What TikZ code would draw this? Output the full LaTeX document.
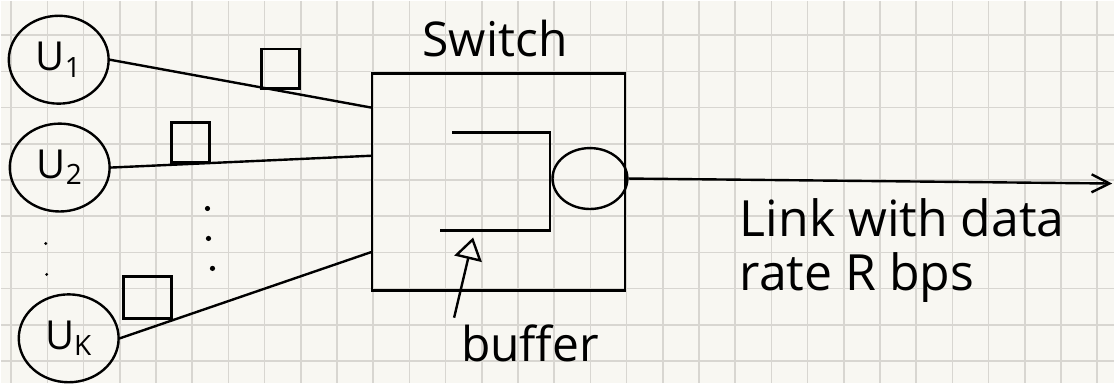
\documentclass[tikz,border=0pt]{standalone}
\usepackage{fontspec}
\setmainfont{Open Sans}
\usetikzlibrary{shapes.geometric,arrows.meta,calc}
\definecolor{paper}{HTML}{F8F7F2}
\definecolor{gridline}{HTML}{D8D6D1}

\begin{document}
\begin{tikzpicture}[x=0.5pt, y=-0.5pt,
    pen/.style={line width=1.2pt, black},
    user/.style={ellipse, draw, pen, minimum width=50pt, minimum height=44pt, inner sep=0pt, font=\fontsize{20}{22}\selectfont},
    packet/.style={draw, pen, minimum width=19pt, minimum height=20pt, inner sep=0pt},
    hand/.style={font=\fontsize{24}{24}\selectfont}]
    % 方格纸
    \fill[paper] (0,0) rectangle (1115,383);
    \foreach \i in {0,...,30}
        \draw[gridline, line width=0.8pt] ({10.5+36.25*\i},0) -- ({10.5+36.25*\i},383);
    \foreach \j in {0,...,9}
        \draw[gridline, line width=0.8pt] (0,{34.5+36.25*\j}) -- (1115,{34.5+36.25*\j});

    % 用户
    \node[user] (u1) at (58,59) {U\textsubscript{1}};
    \node[user] (u2) at (59,167) {U\textsubscript{2}};
    \node[user] (uk) at (68,338) {U\textsubscript{K}};
    \fill (45,243) circle (0.8pt);
    \fill (46,274) circle (0.8pt);

    % 交换机
    \node[draw, pen, minimum width=126.5pt, minimum height=108.5pt] (switch) at (498.5,181.5) {};
    \node[hand] (title) at (495,38) {Switch};
    \coordinate (in1) at ($(switch.north west)!0.16!(switch.south west)$);
    \coordinate (in2) at ($(switch.north west)!0.38!(switch.south west)$);
    \coordinate (ink) at ($(switch.north west)!0.82!(switch.south west)$);

    % 输入链路与分组
    \draw[pen] (u1.east) -- (in1);
    \draw[pen] (u2.east) -- (in2);
    \draw[pen] (uk.east) -- (ink);
    \node[packet] (p1) at (280,68) {};
    \node[packet] (p2) at (190,142) {};
    \node[packet, minimum width=24pt, minimum height=21pt] (pk) at (147,297) {};
    \fill (207,208) circle (1.3pt);
    \fill (208,238) circle (1.3pt);
    \fill (212,268) circle (1.3pt);

    % 缓存与服务器
    \draw[pen] (452,132) -- (550,132) -- (550,230) -- (440,230);
    \coordinate (bufin) at (473,237);
    \node[ellipse, draw, pen, minimum width=37.5pt, minimum height=30.5pt, inner sep=0pt] (server) at (590,178) {};
    \node[hand] (buflabel) at (530,343) {buffer};
    \draw[pen, -{Triangle[open, length=11pt, width=14pt]}] (buflabel.north west) -- (bufin);

    % 输出链路
    \coordinate (out) at (1113,183);
    \draw[pen, -{Straight Barb[length=9pt, width=9pt]}] (server.east) -- (out);
    \node[hand, font=\fontsize{25}{27}\selectfont, align=left, anchor=west] (link) at (733,250) {Link with data\\rate R bps};
\end{tikzpicture}
\end{document}
